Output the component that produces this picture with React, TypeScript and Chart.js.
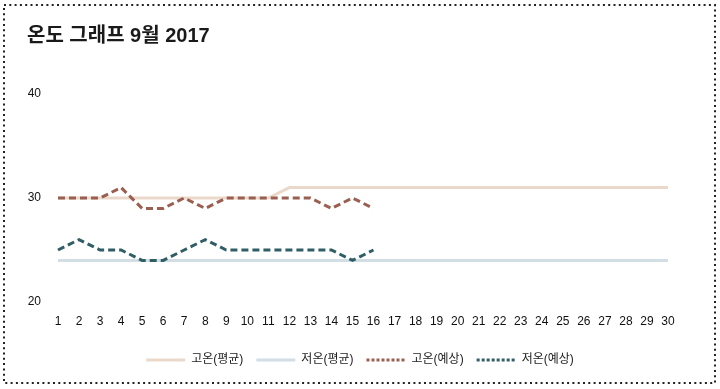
import React, { useEffect, useRef } from "react";
import { Chart, registerables } from "chart.js";

Chart.register(...registerables);

const days = Array.from({ length: 30 }, (_, i) => String(i + 1));
const highAvg = [30, 30, 30, 30, 30, 30, 30, 30, 30, 30, 30, 31, 31, 31, 31, 31, 31, 31, 31, 31, 31, 31, 31, 31, 31, 31, 31, 31, 31, 31];
const lowAvg = [24, 24, 24, 24, 24, 24, 24, 24, 24, 24, 24, 24, 24, 24, 24, 24, 24, 24, 24, 24, 24, 24, 24, 24, 24, 24, 24, 24, 24, 24];
const highForecast = [30, 30, 30, 31, 29, 29, 30, 29, 30, 30, 30, 30, 30, 29, 30, 29];
const lowForecast = [25, 26, 25, 25, 24, 24, 25, 26, 25, 25, 25, 25, 25, 25, 24, 25];
const seriesNames = ["고온(평균)", "저온(평균)", "고온(예상)", "저온(예상)"];
const titleText = "온도 그래프 9월 2017";

const FONT = '"Liberation Sans", "Noto Sans CJK KR", Arial, sans-serif';

const borderPlugin = {
  id: "dottedBorder",
  afterDraw(chart: any) {
    const ctx = chart.ctx;
    ctx.save();
    ctx.strokeStyle = "#222";
    ctx.lineWidth = 2;
    ctx.setLineDash([2, 3.3]);
    ctx.strokeRect(4, 5, 711, 378);
    ctx.restore();
  },
};

export default function App() {
  const ref = useRef<HTMLCanvasElement>(null);
  useEffect(() => {
    if (!ref.current) return;
    const chart = new Chart(ref.current, {
      type: "line",
      data: {
        labels: days,
        datasets: [
          { label: seriesNames[0], data: highAvg, order: 2, yAxisID: "y", borderColor: "#ead9cb", backgroundColor: "#ead9cb", borderWidth: 3, pointRadius: 0, tension: 0 },
          { label: seriesNames[1], data: lowAvg, order: 2, yAxisID: "y", borderColor: "#d2dee4", backgroundColor: "#d2dee4", borderWidth: 3, pointRadius: 0, tension: 0 },
          { label: seriesNames[2], data: highForecast, order: 1, yAxisID: "y", borderColor: "#9a5f50", backgroundColor: "#9a5f50", borderWidth: 3, borderDash: [7, 4], pointRadius: 0, tension: 0 },
          { label: seriesNames[3], data: lowForecast, order: 1, yAxisID: "y", borderColor: "#2f5e65", backgroundColor: "#2f5e65", borderWidth: 3, borderDash: [7, 4], pointRadius: 0, tension: 0 },
        ],
      },
      options: {
        responsive: false,
        animation: false,
        layout: { padding: { left: 27, right: 27, top: 0, bottom: 13 } },
        plugins: {
          title: {
            display: true,
            text: titleText,
            align: "start",
            color: "#1a1a1a",
            font: { family: FONT, size: 20, weight: "bold", lineHeight: 1.2 },
            padding: { top: 24, bottom: 46 },
          },
          legend: {
            position: "bottom",
            labels: {
              usePointStyle: true,
              pointStyle: "line",
              pointStyleWidth: 39,
              padding: 13,
              color: "#222",
              font: { family: FONT, size: 12 },
              generateLabels: (chart: any) => {
                const items = Chart.defaults.plugins.legend.labels.generateLabels(chart);
                items.sort((a: any, b: any) => a.datasetIndex - b.datasetIndex);
                return items.map((it: any) => ({
                  ...it,
                  pointStyle: "line",
                  lineWidth: 3,
                  lineDash: it.datasetIndex >= 2 ? [3, 2] : [],
                }));
              },
            },
          },
          tooltip: { enabled: false },
        },
        scales: {
          x: {
            grid: { display: false },
            border: { display: false },
            ticks: { color: "#111", padding: 4, font: { family: FONT, size: 12 }, autoSkip: false, maxRotation: 0 },
            afterFit: (s: any) => { s.height = 39; },
          },
          y: {
            min: 20,
            max: 40,
            grid: { display: false },
            border: { display: false },
            ticks: { stepSize: 10, color: "#111", padding: 9, font: { family: FONT, size: 12 } },
            afterFit: (s: any) => { s.width = 31; },
          },
          yRight: {
            position: "right",
            display: true,
            grid: { display: false },
            border: { display: false },
            ticks: { display: false },
            afterFit: (s: any) => { s.width = 25; },
          },
        },
      },
      plugins: [borderPlugin],
    } as any);
    return () => chart.destroy();
  }, []);
  return (
    <div style={{ position: "fixed", left: 0, top: 0, width: 720, height: 389, background: "#fff" }}>
      <canvas ref={ref} width={720} height={389} style={{ display: "block", width: 720, height: 389 }} />
    </div>
  );
}
